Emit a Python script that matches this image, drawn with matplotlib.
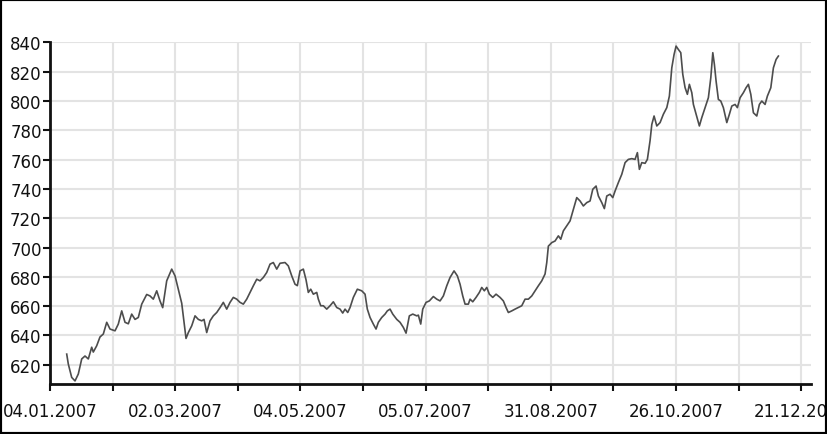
import matplotlib
matplotlib.use("Agg")
import matplotlib.pyplot as plt
from matplotlib.patches import Rectangle

# trading-day index (0 = 04.01.2007) and price
days = [5.34, 5.85, 6.93, 7.99, 9.04, 10.13, 11.18, 12.24, 13.32, 13.83, 14.92, 15.97,
        17.03, 18.12, 19.17, 20.77, 21.82, 22.91, 23.96, 25.02, 26.1, 27.16, 28.21, 29.3,
        30.89, 31.95, 33.0, 34.09, 35.14, 36.0, 37.28, 38.88, 39.94, 40.99, 42.08, 42.81,
        43.45, 44.19, 45.27, 46.33, 47.38, 48.47, 49.2, 50.06, 51.12, 52.17, 53.26, 54.31,
        55.37, 56.45, 57.51, 58.56, 59.65, 60.7, 61.76, 62.84, 63.9, 64.95, 66.04, 67.09,
        68.15, 69.23, 70.29, 71.34, 72.43, 73.48, 75.08, 76.13, 77.22, 78.27, 79.01, 79.87,
        80.93, 81.79, 82.52, 83.29, 84.12, 85.21, 85.72, 86.49, 87.32, 88.4, 89.46, 90.51,
        91.6, 92.65, 93.51, 94.25, 95.11, 95.85, 96.9, 98.18, 99.58, 100.64, 101.37, 102.24,
        103.29, 104.15, 104.89, 105.97, 107.03, 107.76, 108.63, 109.49, 110.77, 111.82,
        112.88, 113.74, 114.79, 115.88, 117.16, 117.67, 118.43, 119.07, 120.13, 121.18,
        122.46, 123.55, 124.6, 125.66, 126.74, 127.8, 129.07, 130.13, 130.99, 131.85,
        132.59, 133.64, 134.19, 135.05, 136.1, 137.16, 137.92, 138.75, 139.52, 140.35,
        141.44, 142.49, 143.77, 144.82, 145.69, 146.42, 147.51, 148.56, 149.62, 150.7,
        151.76, 152.81, 153.9, 154.95, 156.0, 157.09, 158.15, 158.69, 159.2, 160.29,
        161.34, 162.4, 163.16, 163.99, 165.08, 166.13, 167.19, 168.27, 169.33, 170.38,
        171.47, 172.52, 173.39, 174.44, 175.18, 176.26, 177.09, 177.86, 178.91, 179.78,
        180.51, 181.57, 182.65, 183.71, 184.76, 185.85, 186.9, 187.64, 188.28, 189.04,
        190.1, 190.83, 191.69, 192.24, 192.97, 193.84, 194.89, 195.94, 197.03, 197.86,
        198.63, 199.36, 200.0, 200.73, 201.5, 202.14, 202.88, 203.61, 204.25, 205.02,
        205.53, 206.39, 207.44, 208.21, 209.27, 210.32, 211.09, 211.73, 212.24, 212.78,
        213.51, 214.28, 215.11, 216.2, 217.03, 217.8, 218.85, 219.58, 220.45, 221.5,
        222.36, 223.1, 223.87, 224.7, 225.78, 226.61, 227.38, 228.43, 229.17, 230.26,
        231.09, 231.95, 232.68]

prices = [627.3, 620.5, 611.4, 609.0, 613.7, 624.0, 626.0, 624.0, 632.0, 628.7, 633.0, 639.0,
          641.0, 649.0, 644.4, 643.2, 647.8, 656.8, 649.0, 648.0, 654.6, 651.0, 652.3, 661.4,
          668.0, 667.0, 664.8, 670.5, 663.6, 659.0, 677.3, 685.3, 680.7, 671.6, 662.0, 649.0,
          638.0, 642.0, 646.6, 653.4, 651.0, 650.0, 651.0, 642.0, 650.0, 653.4, 655.7, 659.0,
          662.6, 658.0, 662.6, 666.0, 664.8, 662.6, 661.4, 664.8, 669.4, 673.9, 678.4, 677.3,
          679.6, 683.0, 688.7, 689.8, 685.3, 689.3, 689.8, 687.5, 680.7, 675.0, 674.0, 684.1,
          685.3, 678.0, 669.4, 671.6, 668.2, 669.4, 664.8, 660.3, 660.3, 658.0, 660.3, 663.0,
          659.1, 658.0, 655.3, 658.0, 655.7, 659.1, 666.0, 671.6, 670.5, 668.2, 658.0, 652.3,
          647.8, 644.4, 649.0, 652.3, 654.6, 656.8, 658.0, 654.6, 651.0, 649.0,
          645.5, 641.6, 653.4, 654.6, 653.4, 653.9, 647.8, 658.0, 662.6, 663.6,
          666.6, 664.8, 663.6, 667.0, 673.9, 679.6, 684.1, 680.7, 675.0, 667.0,
          661.4, 661.4, 664.8, 663.0, 666.0, 669.4, 672.8, 670.5, 672.8, 668.2,
          666.0, 668.2, 666.0, 663.6, 659.1, 655.7, 656.8, 658.0, 659.1, 660.3,
          664.8, 664.8, 667.0, 670.5, 673.9, 677.3, 682.0, 689.8, 701.0, 703.4,
          704.5, 708.0, 705.7, 711.4, 714.8, 718.2, 726.2, 734.1, 731.8, 728.4,
          730.7, 731.8, 739.8, 742.0, 735.2, 730.7, 726.6, 735.2, 736.4, 734.1,
          738.6, 744.4, 750.0, 758.0, 760.2, 760.7, 760.2, 764.8, 753.4, 758.0,
          757.5, 760.2, 773.0, 784.0, 789.8, 783.0, 785.3, 791.0, 795.5, 803.4,
          822.7, 831.8, 837.5, 835.2, 833.0, 818.2, 809.1, 804.6, 811.4, 805.7,
          797.7, 791.0, 783.0, 788.7, 795.5, 802.3, 815.9, 833.0, 825.0, 813.6,
          801.1, 800.0, 795.5, 785.3, 791.0, 796.6, 797.7, 795.5, 802.3, 805.7,
          809.1, 811.4, 804.6, 792.0, 789.8, 797.7, 800.0, 797.7, 803.4, 809.1,
          822.7, 828.4, 830.7]

tick_days = [0, 20, 40, 60, 80, 100, 120, 140, 160, 180, 200, 220, 240]
tick_labels = ["04.01.2007", "", "02.03.2007", "", "04.05.2007", "", "05.07.2007", "",
               "31.08.2007", "", "26.10.2007", "", "21.12.2007"]
y_ticks = [620, 640, 660, 680, 700, 720, 740, 760, 780, 800, 820, 840]

fig = plt.figure(figsize=(8.27, 4.35), dpi=100)
ax = fig.add_axes([50 / 827, 50 / 435, 761 / 827, 342 / 435])

ax.plot(days, prices, color="#4d4d4d", linewidth=1.2)

ax.set_xlim(0, 243.1)
ax.set_ylim(606.9, 840.3)
ax.set_xticks(tick_days)
ax.set_xticklabels(tick_labels)
ax.set_yticks(y_ticks)

ax.grid(True, color="#e3e3e3", linewidth=1.5)
ax.set_axisbelow(True)
for s in ("top", "right"):
    ax.spines[s].set_visible(False)
for s in ("left", "bottom"):
    ax.spines[s].set_linewidth(2)
    ax.spines[s].set_color("#111111")

ax.tick_params(axis="both", direction="out", length=5, width=1.5, colors="#111111",
               labelsize=12)
ax.tick_params(axis="y", pad=1)
ax.tick_params(axis="x", pad=8)

fig.add_artist(Rectangle((0, 0), 1, 1, transform=fig.transFigure, fill=False,
                         edgecolor="black", linewidth=3))

fig.savefig("out.png", dpi=100)
